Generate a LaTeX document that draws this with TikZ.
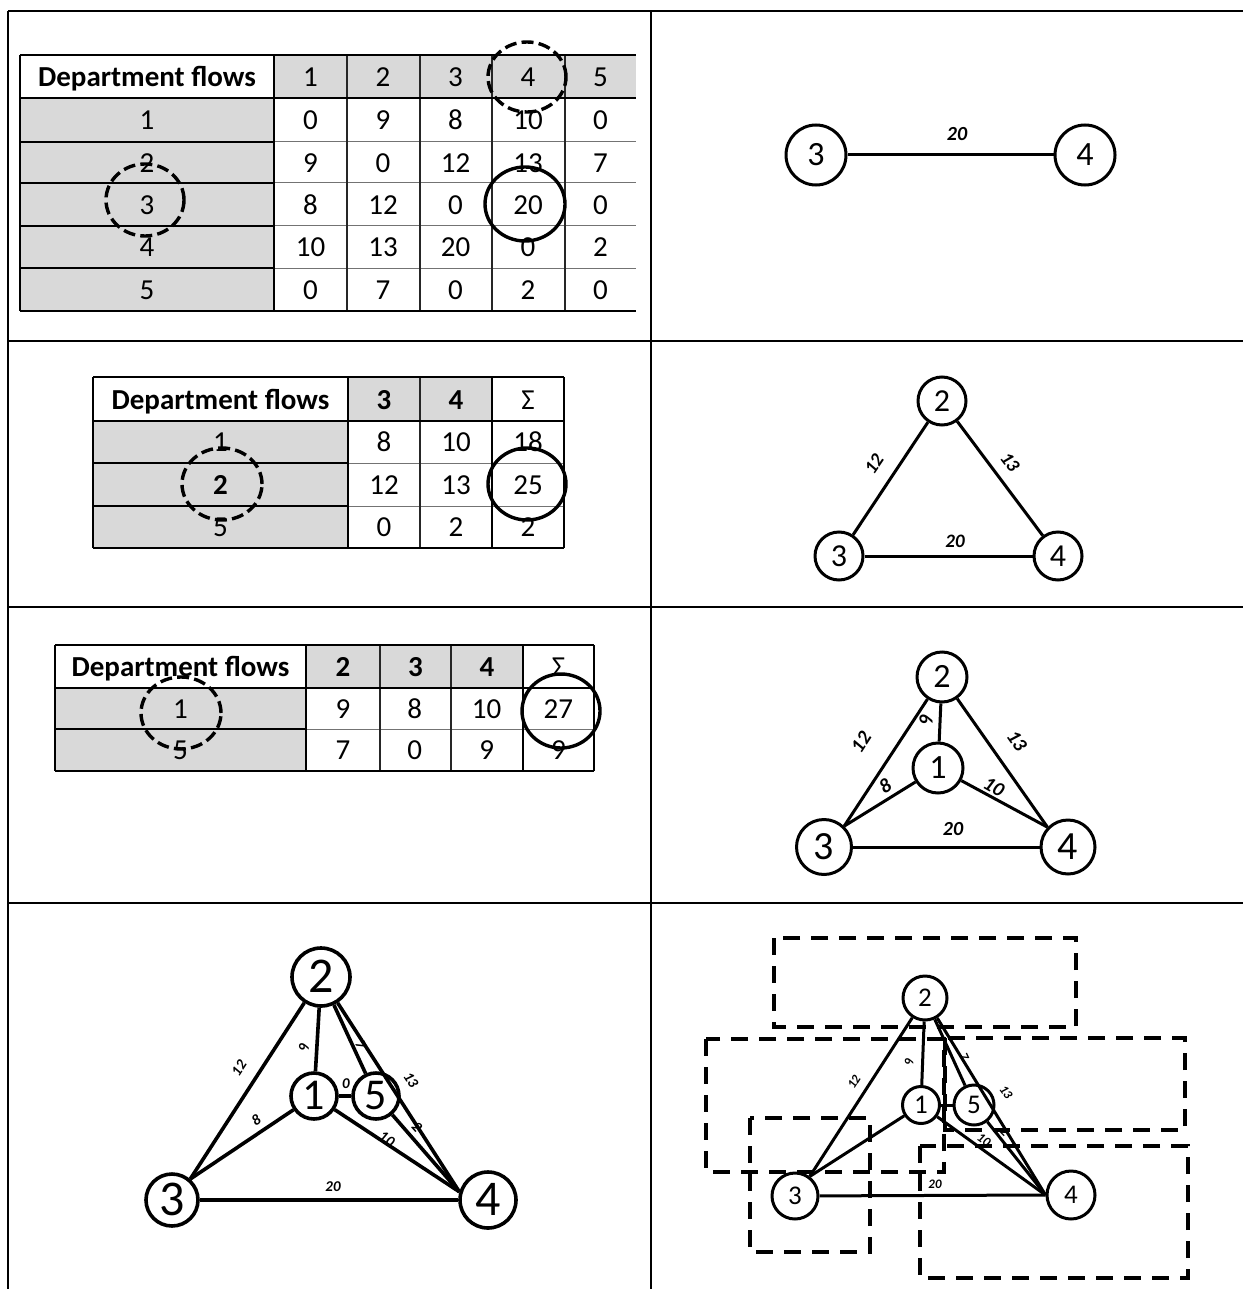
\documentclass[tikz,border=0pt]{standalone}
\usepackage{fontspec}
\setmainfont{Carlito}
\definecolor{cellgray}{HTML}{D9D9D9}
\begin{document}
\begin{tikzpicture}[x=0.5pt,y=-0.5pt,
  frameline/.style={line width=1.3pt},
  thk/.style={line width=1.4pt},
  thn/.style={line width=0.5pt,black!55},
  midl/.style={line width=0.9pt,black!85},
  cell/.style={inner sep=0pt,text height=9.3pt,text depth=0pt,font=\fontsize{14.5}{16}\selectfont},
  bcell/.style={cell,font=\fontsize{14.5}{16}\selectfont\bfseries},
  hidash/.style={line width=1.7pt,dash pattern=on 6pt off 2.6pt},
  hisolid/.style={line width=1.7pt},
  gn/.style n args={3}{circle,draw,line width=1.5pt,inner sep=0pt,text height=#3pt,text depth=0pt,minimum size=#1pt,font=\fontsize{#2}{#2}\selectfont},
  ge/.style={line width=1.5pt},
  el/.style={inner sep=0pt,font=\fontsize{#1}{#1}\selectfont\bfseries\itshape},
  rdash/.style={line width=2pt,dash pattern=on 8.5pt off 5.5pt}
]
\fill[white] (0,0) rectangle (1243,1289);
\useasboundingbox (0,0) rectangle (1243,1289);

% ---------- frame ----------
\draw[frameline] (8,11) -- (1243,11);
\draw[frameline] (8,341) -- (1243,341);
\draw[frameline] (8,607) -- (1243,607);
\draw[frameline] (8,903) -- (1243,903);
\draw[frameline] (8,11) -- (8,1289);
\draw[frameline] (651,11) -- (651,1289);

% ---------- table 1 ----------
\fill[cellgray] (274,55) rectangle (636,98);
\fill[cellgray] (20,98) rectangle (274,311);
\foreach \yy in {142,183,226,268} {
  \draw[thn] (274,\yy) -- (636,\yy);
  \draw[thk] (20,\yy) -- (274,\yy);
}
\foreach \xx in {347,420,492,565} \draw[midl] (\xx,55) -- (\xx,311);
\draw[thk] (20,55) -- (636,55);
\draw[thk] (20,98) -- (636,98);
\draw[thk] (20,311) -- (636,311);
\draw[thk] (20,55) -- (20,311);
\draw[thk] (274,55) -- (274,311);
\node[bcell] (t1h) at (147,77) {Department flows};
\foreach \i in {1,...,5} \node[cell] (t1h\i) at ({310.5+(\i-1)*72.5},77) {\i};
\foreach \r/\yy in {1/120.5,2/163,3/205,4/247.5,5/290} \node[cell] (t1r\r) at (147,\yy) {\r};
\foreach \v [count=\i] in {0,9,8,10,0} \node[cell] (t1r1c\i) at ({310.5+(\i-1)*72.5},120.5) {\v};
\foreach \v [count=\i] in {9,0,12,13,7} \node[cell] (t1r2c\i) at ({310.5+(\i-1)*72.5},163) {\v};
\foreach \v [count=\i] in {8,12,0,20,0} \node[cell] (t1r3c\i) at ({310.5+(\i-1)*72.5},205) {\v};
\foreach \v [count=\i] in {10,13,20,0,2} \node[cell] (t1r4c\i) at ({310.5+(\i-1)*72.5},247.5) {\v};
\foreach \v [count=\i] in {0,7,0,2,0} \node[cell] (t1r5c\i) at ({310.5+(\i-1)*72.5},290) {\v};
\draw[hidash] (527,77) ellipse [x radius=19.5pt, y radius=17.5pt];
\draw[hidash] (145,200) ellipse [x radius=19.5pt, y radius=18pt];
\draw[hisolid] (525,204) ellipse [x radius=20pt, y radius=18.5pt];

% ---------- graph A (top right) ----------
\node[gn={30}{17}{10.7}] (a3) at (816,155) {3};
\node[gn={30}{17}{10.7}] (a4) at (1085,155) {4};
\draw[ge] (a3) -- (a4);
\node[el=10] (la20) at (957,134) {20};

% ---------- table 2 ----------
\fill[cellgray] (348,377) rectangle (492,421);
\fill[cellgray] (93,421) rectangle (348,548);
\foreach \yy in {463,506} {
  \draw[thn] (348,\yy) -- (564,\yy);
  \draw[thk] (93,\yy) -- (348,\yy);
}
\draw[midl] (420,377) -- (420,548);
\draw[thk] (93,377) -- (564,377);
\draw[thk] (93,421) -- (564,421);
\draw[thk] (93,548) -- (564,548);
\draw[thk] (93,377) -- (93,548);
\draw[thk] (348,377) -- (348,548);
\draw[thk] (492,377) -- (492,548);
\draw[thk] (564,377) -- (564,548);
\node[bcell] (t2h) at (220.5,400) {Department flows};
\node[bcell] (t2h1) at (384,400) {3};
\node[bcell] (t2h2) at (456,400) {4};
\node[cell] (t2h3) at (528,400) {Σ};
\node[cell] (t2r1) at (220.5,442.5) {1};
\node[bcell] (t2r2) at (220.5,485) {2};
\node[cell] (t2r3) at (220.5,527.5) {5};
\foreach \v [count=\i] in {8,10,18} \node[cell] (t2r1c\i) at ({384+(\i-1)*72},442.5) {\v};
\foreach \v [count=\i] in {12,13,25} \node[cell] (t2r2c\i) at ({384+(\i-1)*72},485) {\v};
\foreach \v [count=\i] in {0,2,2} \node[cell] (t2r3c\i) at ({384+(\i-1)*72},527.5) {\v};
\draw[hidash] (222,484) ellipse [x radius=20pt, y radius=18pt];
\draw[hisolid] (527,484) ellipse [x radius=19.5pt, y radius=18pt];

% ---------- graph B ----------
\node[gn={24}{16}{10.1}] (b2) at (942,401) {2};
\node[gn={24}{16}{10.1}] (b3) at (839,556) {3};
\node[gn={24}{16}{10.1}] (b4) at (1058,556) {4};
\draw[ge] (b2) -- (b3);
\draw[ge] (b2) -- (b4);
\draw[ge] (b3) -- (b4);
\node[el=9.5,rotate=56] (lb12) at (874,464) {12};
\node[el=9.5,rotate=-53] (lb13) at (1010,462) {13};
\node[el=9.5] (lb20) at (955,541) {20};

% ---------- table 3 ----------
\fill[cellgray] (306,645) rectangle (523,688);
\fill[cellgray] (55,688) rectangle (306,771);
\draw[thn] (306,729) -- (594,729);
\draw[thk] (55,729) -- (306,729);
\draw[midl] (380,645) -- (380,771);
\draw[midl] (451,645) -- (451,771);
\draw[thk] (55,645) -- (594,645);
\draw[thk] (55,688) -- (594,688);
\draw[thk] (55,771) -- (594,771);
\draw[thk] (55,645) -- (55,771);
\draw[thk] (306,645) -- (306,771);
\draw[thk] (523,645) -- (523,771);
\draw[thk] (594,645) -- (594,771);
\node[bcell] (t3h) at (180.5,667) {Department flows};
\node[bcell] (t3h1) at (343,667) {2};
\node[bcell] (t3h2) at (415.5,667) {3};
\node[bcell] (t3h3) at (487,667) {4};
\node[cell] (t3h4) at (558.5,667) {Σ};
\node[cell] (t3r1) at (180.5,709) {1};
\node[cell] (t3r2) at (180.5,750.5) {5};
\foreach \v [count=\i] in {9,8,10,27} \node[cell] (t3r1c\i) at ({343+(\i-1)*71.8},709) {\v};
\foreach \v [count=\i] in {7,0,9,9} \node[cell] (t3r2c\i) at ({343+(\i-1)*71.8},750.5) {\v};
\draw[hidash] (181,713) ellipse [x radius=20pt, y radius=18pt];
\draw[hisolid] (561,711) ellipse [x radius=19.5pt, y radius=18.5pt];

% ---------- graph C ----------
\node[gn={25}{17}{10.7}] (c2) at (942,677) {2};
\node[gn={25}{17}{10.7}] (c1) at (938,768) {1};
\node[gn={27.5}{20}{12.6}] (c3) at (824,847) {3};
\node[gn={27}{20}{12.6}] (c4) at (1068,847) {4};
\draw[ge] (c2) -- (c3.46);
\draw[ge] (c2) -- (c1);
\draw[ge] (c2) -- (c4.136);
\draw[ge] (c1) -- (c3.46);
\draw[ge] (c1) -- (c4.136);
\draw[ge] (c3) -- (c4);
\node[el=10,rotate=90] (lc9) at (926,720) {9};
\node[el=10,rotate=57] (lc12) at (861,742) {12};
\node[el=10,rotate=-55] (lc13) at (1017,741) {13};
\node[el=10,rotate=32] (lc8) at (885,786) {8};
\node[el=10,rotate=-30] (lc10) at (994,787) {10};
\node[el=10] (lc20) at (953,829) {20};

% ---------- graph D (bottom left) ----------
\node[gn={29}{25}{15.7},line width=1.8pt] (d2) at (321,977) {2};
\node[gn={23}{22}{13.9},line width=1.8pt] (d1) at (314,1096) {1};
\node[gn={23}{22}{13.9},line width=1.8pt] (d5) at (376,1096) {5};
\node[gn={26}{25}{15.7},line width=1.8pt] (d3) at (172,1200) {3};
\node[gn={28}{25}{15.7},line width=1.8pt] (d4) at (488,1200) {4};
\begin{scope}[line width=1.8pt]
\draw (d2) -- (d3.49);
\draw (d2) -- (d1);
\draw (d2) -- (d5);
\draw (d2) -- (d4.164);
\draw (d1) -- (d5);
\draw (d1) -- (d3.49);
\draw (d1) -- (d4.164);
\draw (d5) -- (d4.164);
\draw (d3) -- (d4);
\end{scope}
\node[el=7.5,rotate=57] (ld12) at (239,1068) {12};
\node[el=7.5,rotate=90] (ld9) at (304,1048) {9};
\node[el=7.5,rotate=-65] (ld7) at (361,1045) {7};
\node[el=7.5,rotate=-57] (ld13) at (411,1080) {13};
\node[el=7.5] (ld0) at (346,1084) {0};
\node[el=7.5,rotate=33] (ld8) at (256,1120) {8};
\node[el=7.5,rotate=-33] (ld10) at (387,1139) {10};
\node[el=7.5,rotate=-48] (ld2) at (417,1127) {2};
\node[el=7.5] (ld20) at (333,1187) {20};

% ---------- graph E (bottom right) ----------
\node[gn={22}{13.5}{8.5}] (e2) at (925,998) {2};
\node[gn={18.5}{13.5}{8.5}] (e1) at (921,1105) {1};
\node[gn={20}{13.5}{8.5}] (e5) at (974,1105) {5};
\node[gn={23}{13.5}{8.5}] (e3) at (795,1196) {3};
\node[gn={24}{13.5}{8.5}] (e4) at (1071,1195) {4};
\draw[ge] (e2) -- (e3.53);
\draw[ge] (e2) -- (e1);
\draw[ge] (e2) -- (e5);
\draw[ge] (e2) -- (e4.west);
\draw[ge] (e1) -- (e5);
\draw[ge] (e1) -- (e3.53);
\draw[ge] (e1) -- (e4.west);
\draw[ge] (e5) -- (e4.west);
\draw[ge] (e3) -- (e4.west);
\node[el=6.5,rotate=90] (le9) at (909,1062) {9};
\node[el=6.5,rotate=58] (le12) at (854,1082) {12};
\node[el=6.5,rotate=-65] (le7) at (964,1057) {7};
\node[el=6.5,rotate=-55] (le13) at (1006,1092) {13};
\node[el=6.5,rotate=-35] (le10) at (984,1140) {10};
\node[el=6.5,rotate=-45] (le2) at (1005,1132) {2};
\node[el=6.5] (le20) at (935,1184) {20};
\draw[rdash] (774,938) rectangle (1076,1027);
\draw[rdash] (706,1039) rectangle (944,1172);
\draw[rdash] (945,1038) rectangle (1185,1130);
\draw[rdash] (920,1146) rectangle (1188,1278);
\draw[rdash] (750,1118) rectangle (870,1252);
\end{tikzpicture}
\end{document}
